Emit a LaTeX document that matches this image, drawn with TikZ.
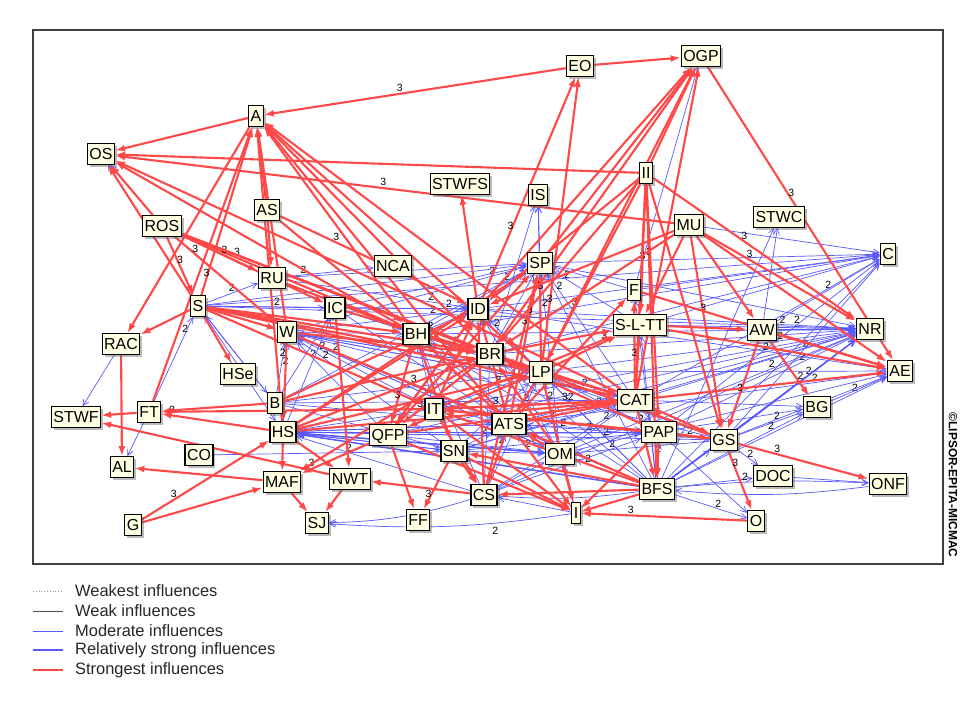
\documentclass[tikz,border=0pt]{standalone}
\usepackage{fontspec}
\setmainfont{Liberation Sans}
\usepackage{tikz}
\usetikzlibrary{arrows.meta,shadows}

\definecolor{infred}{RGB}{255,72,72}
\definecolor{infblue}{RGB}{88,88,255}
\definecolor{cream}{RGB}{255,255,228}

\pgfdeclarelayer{blue}
\pgfdeclarelayer{red}
\pgfsetlayers{blue,red,main}

\tikzset{
  var/.style={draw=black, line width=1.2bp, fill=cream, font=\fontsize{16}{16}\selectfont,
    text height=11.5bp, text depth=0bp, inner xsep=2bp, inner ysep=4.5bp,
    drop shadow={shadow xshift=2.5bp, shadow yshift=-2.5bp, fill=black!60, opacity=0.45}},
  strong/.style={draw=infred, line width=2.1bp, -{Latex[length=10bp,width=7bp]}},
  moderate/.style={draw=infblue, line width=0.7bp, -{Straight Barb[length=6bp,width=6bp]}},
  rstrong/.style={moderate, line width=1.5bp},
  num/.style={font=\fontsize{10.5}{10.5}\selectfont, inner sep=1bp, above},
  leg/.style={anchor=west, inner xsep=0bp, font=\fontsize{16.5}{16.5}\selectfont, text=black!85}
}

\begin{document}
\begin{tikzpicture}[x=1bp,y=-1bp]
\useasboundingbox (0,0) rectangle (972,702);

\draw[line width=1.3bp, black!75] (33,30) rectangle (943,564);

% variables
\node[var] (A) at (256,116) {A};
\node[var] (OS) at (101,154) {OS};
\node[var] (AS) at (267,210) {AS};
\node[var] (EO) at (580,66) {EO};
\node[var] (OGP) at (701,56) {OGP};
\node[var] (STWFS) at (460,184) {STWFS};
\node[var] (IS) at (538,195) {IS};
\node[var] (II) at (646,173) {II};
\node[var] (STWC) at (779,217) {STWC};
\node[var] (MU) at (689,225) {MU};
\node[var] (C) at (888,254) {C};
\node[var] (NR) at (870,329) {NR};
\node[var] (AE) at (900,371) {AE};
\node[var] (AW) at (762,330) {AW};
\node[var] (ROS) at (162,226) {ROS};
\node[var] (RU) at (272,278) {RU};
\node[var] (S) at (198,306) {S};
\node[var] (IC) at (335,308) {IC};
\node[var] (W) at (287,332) {W};
\node[var] (RAC) at (121,344) {RAC};
\node[var] (HSe) at (238,374) {HSe};
\node[var] (NCA) at (393,266) {NCA};
\node[var] (SP) at (540,263) {SP};
\node[var] (ID) at (478,309) {ID};
\node[var] (F) at (634,290) {F};
\node[var] (SLTT) at (640,325) {S-L-TT};
\node[var] (BH) at (416,334) {BH};
\node[var] (BR) at (490,354) {BR};
\node[var] (LP) at (541,372) {LP};
\node[var] (STWF) at (76,417) {STWF};
\node[var] (FT) at (149,412) {FT};
\node[var] (B) at (275,403) {B};
\node[var] (HS) at (283,432) {HS};
\node[var] (CO) at (199,455) {CO};
\node[var] (AL) at (122,467) {AL};
\node[var] (MAF) at (282,482) {MAF};
\node[var] (NWT) at (350,479) {NWT};
\node[var] (G) at (133,525) {G};
\node[var] (SJ) at (317,523) {SJ};
\node[var] (IT) at (434,409) {IT};
\node[var] (QFP) at (388,435) {QFP};
\node[var] (ATS) at (509,424) {ATS};
\node[var] (SN) at (454,451) {SN};
\node[var] (OM) at (560,454) {OM};
\node[var] (CS) at (484,495) {CS};
\node[var] (FF) at (418,520) {FF};
\node[var] (I) at (576,513) {I};
\node[var] (CAT) at (635,400) {CAT};
\node[var] (PAP) at (659,432) {PAP};
\node[var] (BFS) at (657,489) {BFS};
\node[var] (GS) at (724,440) {GS};
\node[var] (BG) at (817,407) {BG};
\node[var] (DOC) at (773,476) {DOC};
\node[var] (ONF) at (888,484) {ONF};
\node[var] (O) at (756,521) {O};

% moderate influences
\begin{pgfonlayer}{blue}
\foreach \a/\b/\p in {RU/NCA/0.2, S/IC/0.6, S/RU/0.5, FT/S/0.8, W/ID/0.8, IC/ID/0.85,
    BH/SP/0.8, OM/SP/0.8, BFS/NR/0.7, GS/NR/0.6, CAT/NR/0.75, PAP/C/0.6, AW/C/0.5,
    GS/BG/0.6, BFS/BG/0.75, GS/DOC/0.6, BFS/O/0.6, CS/HS/0.7, ATS/W/0.8, IT/W/0.8,
    QFP/W/0.8, SN/W/0.8, BFS/CAT/0.8, BFS/PAP/0.7, BFS/LP/0.8, BFS/OM/0.8,
    OM/CAT/0.7, ATS/CAT/0.8, GS/PAP/0.6, GS/LP/0.8, GS/ATS/0.8, SN/ATS/0.7, I/ATS/0.8,
    I/LP/0.7, CS/ATS/0.8, CS/LP/0.8, HS/W/0.7, B/W/0.7, HS/IC/0.8, LP/ID/0.8, BR/ID/0.7,
    SLTT/SP/0.8, CAT/SP/0.85, OM/NR/0.7, PAP/NR/0.7, LP/NR/0.75, BFS/AE/0.85,
    W/SP/0.85, IC/LP/0.6, B/CAT/0.8, HS/PAP/0.85, SN/PAP/0.8, CS/PAP/0.8, QFP/NR/0.8,
    RU/ID/0.8, B/ID/0.8, ID/NR/0.8, ATS/AE/0.8}
  \draw[moderate] (\a) -- node[num,pos=\p]{2} (\b);
\foreach \a/\b in {S/ID, S/SP, S/C, S/NR, HSe/S, RAC/STWF, B/S, S/OS, ROS/OS, FT/AL,
    W/BH, BH/ID, ATS/ID, IT/ID, OM/ID, BR/SP, F/SP, ID/SP, LP/SP,
    SP/IS, BR/IS, LP/IS, F/OGP,
    SLTT/C, F/C, MU/C, BR/C, ID/C, SP/C, CAT/C, BFS/C, GS/C,
    AW/STWC, BFS/STWC, SLTT/NR, BR/NR, ATS/NR, GS/AE, BG/AE,
    PAP/BG, CAT/BG, DOC/ONF, BFS/DOC, PAP/O, CO/SN,
    LP/W, CAT/W, OM/W, BR/W, ATS/HS, CAT/HS, IT/HS, SN/HS, PAP/HS,
    BFS/BR, BFS/ID, BFS/SP, BFS/GS, BFS/SLTT, BFS/F, BFS/BH,
    LP/CAT, CAT/PAP, GS/CAT, GS/OM, GS/BH, IC/BH, S/B, S/HS, B/IC,
    QFP/BH, SN/BH, ATS/BH, IT/BH, CS/BH, CS/BR, CS/OM, I/OM, I/CS, OM/LP,
    SN/LP, QFP/LP, IT/LP, OM/BH, PAP/LP, PAP/ATS, GS/W, BFS/W,
    W/LP, W/CAT, IC/SP, IC/CAT, BH/LP, BH/C, BH/NR, ID/AE, SP/NR, LP/AE, OM/AE,
    IT/NR, SN/NR, CS/NR, CS/CAT, SN/CAT, QFP/PAP, IT/PAP, HS/GS, HS/OM, B/LP, B/SP,
    RU/SP, RU/BH, HS/ATS, B/ATS, W/OM, IC/ATS, QFP/OM, SN/OM, IT/OM, HS/SN, B/SN}
  \draw[moderate] (\a) -- (\b);
\foreach \a/\b in {OM/HS, BFS/HS, AW/NR, BFS/NR}
  \draw[rstrong] (\a) -- (\b);
\draw[moderate] (BFS) to[bend left=4] node[num,pos=0.35]{2} (ONF);
\draw[moderate] (ONF) to[bend left=6] (BFS);
\draw[moderate] (CS) to[bend left=8] (SJ);
\draw[moderate] (I) to[bend left=6] node[num,pos=0.3,below=3bp]{2} (SJ);
\draw[moderate] (BFS) to[bend left=6] (CS);
\end{pgfonlayer}

% strongest influences
\begin{pgfonlayer}{red}
\foreach \a/\b/\p in {EO/A/0.55, MU/OS/0.52, AS/ID/0.3, ROS/BH/0.25, ROS/IC/0.3, ROS/W/0.2,
    II/NR/0.45, OGP/AE/0.45, MU/NR/0.3, II/BFS/0.25, ID/EO/0.3, LP/EO/0.2,
    G/HS/0.25, HS/FT/0.9, QFP/MAF/0.85, SN/FF/0.8, O/I/0.7, GS/O/0.3, GS/ONF/0.3,
    S/A/0.1, ROS/S/0.5, BH/QFP/0.7, BR/QFP/0.75, ID/ATS/0.7, CAT/IT/0.7, W/ATS/0.6,
    ATS/SP/0.7, LP/SP/0.8, CS/SP/0.75, CAT/F/0.35, LP/SLTT/0.8, IT/CAT/0.7, II/LP/0.7,
    II/SLTT/0.6, MU/GS/0.4, AW/GS/0.6}
  \draw[strong] (\a) -- node[num,pos=\p]{3} (\b);
\foreach \a/\b in {EO/OGP, II/OS, A/OS, ROS/OS, S/OS, BH/OS, CAT/OS,
    AS/A, FT/A, HS/A, W/A, BH/A, BR/A, LP/A, CAT/A, ATS/A,
    A/RAC, S/RAC, RAC/AL, ROS/RU, ROS/BR, ROS/LP, AS/RU, AS/BH,
    II/OGP, SP/OGP, ID/OGP, BR/OGP, LP/OGP, CAT/OGP, ID/STWFS,
    II/CAT, II/GS, II/BR, II/ID, II/PAP,
    MU/AE, MU/AW, MU/BR, MU/SLTT, MU/ID, AW/AE, SLTT/AE, CAT/AE, F/AE, SLTT/AW, AW/BG,
    S/HSe, S/BH, S/W, S/BR, S/CAT, S/LP, S/IT,
    RU/BH, IC/BR, W/BR, BH/ATS, BH/CAT, BR/CAT, QFP/CAT, HS/CAT, HS/LP, HS/BR,
    B/ID, B/BR, HS/ID, QFP/ID, IT/ID, HS/SP, QFP/SP, CS/ID, OM/BR, ATS/F,
    CAT/SLTT, BR/SLTT, IT/SLTT, GS/BR, PAP/BR, GS/IT, BFS/IT, BFS/ATS, BFS/SN,
    CAT/GS, PAP/GS, PAP/BFS, CAT/BFS, BFS/I, PAP/I, ATS/I, LP/I, OM/I, SN/I, IT/I, QFP/I,
    BFS/CS, ATS/CS, SN/CS, IT/CS, QFP/FF, CS/NWT, NWT/SJ, MAF/SJ, HS/MAF, G/MAF,
    MAF/AL, FT/STWF, B/FT, IT/FT, NWT/STWF, BR/MAF, HS/NWT, W/HS, IC/NWT,
    BH/SN, ID/QFP, LP/QFP, LP/ATS, CAT/ATS, PAP/IT, OM/ATS}
  \draw[strong] (\a) -- (\b);
\end{pgfonlayer}

% legend
\node[leg] (l1) at (75,591) {Weakest influences};
\node[leg] (l2) at (75,611) {Weak influences};
\node[leg] (l3) at (75,631) {Moderate influences};
\node[leg] (l4) at (75,650) {Relatively strong influences};
\node[leg] (l5) at (75,670) {Strongest influences};
\draw[black!40, dotted, line width=0.8bp] ([xshift=-42bp]l1.west) -- ([xshift=-12bp]l1.west);
\draw[black!70, line width=0.8bp] ([xshift=-42bp]l2.west) -- ([xshift=-12bp]l2.west);
\draw[infblue, line width=0.8bp] ([xshift=-42bp]l3.west) -- ([xshift=-12bp]l3.west);
\draw[infblue, line width=2bp] ([xshift=-42bp]l4.west) -- ([xshift=-12bp]l4.west);
\draw[infred, line width=2.5bp] ([xshift=-42bp]l5.west) -- ([xshift=-12bp]l5.west);

\node[rotate=-90, font=\fontsize{12}{12}\selectfont\bfseries] (copy) at (953,485) {©LIPSOR-EPITA-MICMAC};

\end{tikzpicture}
\end{document}
